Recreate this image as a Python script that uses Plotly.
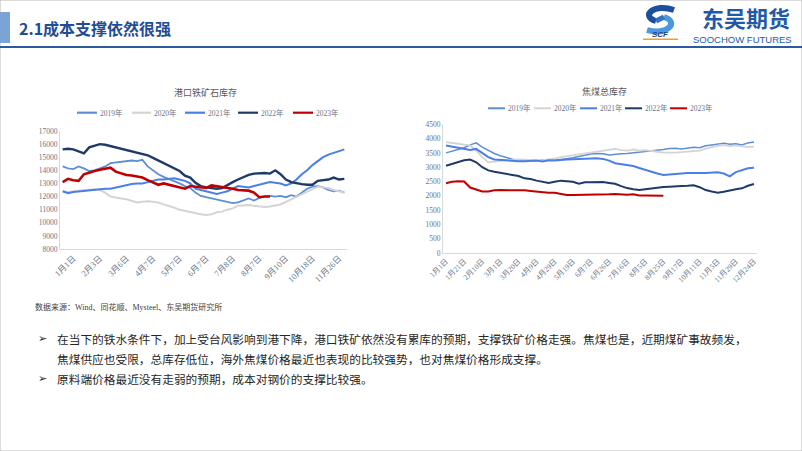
import plotly.graph_objects as go

W, H = 802, 451


def px(x):
    return x / W


def py(y):
    return 1 - y / H


# ---------------- data ----------------
years = ["2019年", "2020年", "2021年", "2022年", "2023年"]

ore_labels = ["1月1日", "2月3日", "3月6日", "4月7日", "5月7日", "6月7日",
              "7月8日", "8月7日", "9月10日", "10月18日", "11月26日"]

ore_2019 = [14300, 14150, 14100, 14300, 14150, 13950, 14000, 14150, 14300,
            14550, 14600, 14650, 14700, 14750, 14700, 14800, 14300, 14000, 13700, 13500, 13350, 13150, 13000, 12800, 12650,
            12300, 12050, 11950, 11850, 11750, 11700, 11600, 11500, 11550, 11700, 11850, 11700, 11900, 12000, 12050, 12000, 12050,
            11950, 12100, 12000, 12300, 12600, 12750, 12800, 12700, 12500, 12400, 12450, 12300]
ore_2020 = [12400, 12350, 12400, 12450, 12500, 12500, 12550, 12500, 12300,
            12000, 11900, 11850, 11800, 11700, 11550, 11600, 11650, 11600, 11550, 11400, 11300, 11150, 11000, 10900, 10800,
            10700, 10650, 10600, 10650, 10800, 10850, 11000, 11100, 11300, 11350, 11350, 11300, 11250, 11200, 11250, 11300, 11400,
            11600, 11800, 12000, 12200, 12400, 12600, 12750, 12700, 12650, 12500, 12400, 12300]
ore_2021 = [12400, 12250, 12350, 12400, 12400, 12450, 12500, 12550, 12600,
            12600, 12700, 12800, 12850, 12950, 13000, 13000, 13100, 13200, 13300, 13300, 13350, 13400, 13300, 13200, 13000,
            12600, 12500, 12400, 12300, 12200, 12300, 12400, 12600, 12800, 12750, 12700, 12800, 12900, 13000, 13100, 13050, 13000,
            12850, 13000, 13300, 13700, 14000, 14400, 14700, 15000, 15200, 15350, 15500, 15600]
ore_2022 = [15600, 15650, 15600, 15450, 15300, 15750, 15900, 16000, 15950,
            15850, 15800, 15700, 15550, 15500, 15400, 15300, 15150, 14950, 14750, 14550, 14350, 14200, 13950, 13600, 13450,
            13050, 12800, 12700, 12650, 12600, 12650, 12900, 13100, 13300, 13500, 13650, 13750, 13800, 13800, 13750, 14000, 13700,
            13300, 13100, 13000, 12950, 12900, 12900, 13200, 13250, 13300, 13450, 13300, 13350]
ore_2023 = [13100, 13350, 13250, 13200, 13700, 13850, 13950, 14050, 14150, 14200,
            13900, 13750, 13650, 13600, 13550, 13450, 13250, 13050, 12900, 13000, 12900, 12800, 12700, 12600, 12800,
            12750, 12700, 12650, 12850, 12800, 12750, 12700, 12600, 12500, 12500, 12450, 12300, 11950, 12000, 12000]

coal_labels = ["1月1日", "1月21日", "2月10日", "3月1日", "3月20日", "4月9日", "4月29日",
               "5月19日", "6月7日", "6月26日", "7月16日", "8月5日", "8月25日", "9月17日",
               "10月11日", "11月5日", "11月29日", "12月24日"]

coal_2019 = [3500, 3560, 3620, 3680, 3780, 3850, 3700, 3580, 3480, 3400, 3330, 3280, 3240, 3220, 3230,
             3220, 3250, 3260, 3240, 3280, 3300, 3330, 3380, 3420, 3460, 3480, 3470, 3430, 3460, 3470, 3480, 3500,
             3540, 3560, 3580, 3600, 3620, 3650, 3660, 3640, 3660, 3700, 3680,
             3750, 3780, 3800, 3840, 3800, 3820, 3780, 3850, 3880]
coal_2020 = [3880, 3860, 3820, 3790, 3760, 3580, 3350, 3170, 3200, 3220, 3230, 3260, 3270, 3260, 3250,
             3230, 3250, 3270, 3300, 3350, 3380, 3420, 3460, 3480, 3500, 3530, 3560, 3600, 3640, 3600, 3580, 3620,
             3580, 3600, 3560, 3540, 3510, 3500, 3510, 3530, 3550, 3560, 3580,
             3650, 3700, 3750, 3770, 3740, 3760, 3720, 3700, 3720]
coal_2021 = [3760, 3720, 3680, 3620, 3600, 3640, 3500, 3350, 3270, 3250, 3240, 3230, 3210, 3210, 3230,
             3230, 3200, 3240, 3230, 3260, 3270, 3280, 3290, 3300, 3300, 3310, 3290, 3230, 3140, 3110, 3080, 3040,
             2970, 2900, 2830, 2780, 2730, 2740, 2760, 2780, 2800, 2810, 2800,
             2800, 2810, 2820, 2780, 2680, 2830, 2900, 2960, 2980]
coal_2022 = [3050, 3110, 3180, 3240, 3270, 3170, 3000, 2890, 2840, 2800, 2770, 2730, 2690, 2610, 2590,
             2530, 2490, 2450, 2490, 2530, 2510, 2490, 2420, 2470, 2470, 2470, 2480, 2450, 2420, 2340, 2270, 2230,
             2200, 2230, 2260, 2300, 2310, 2320, 2320, 2340, 2350, 2370, 2300,
             2200, 2150, 2110, 2140, 2190, 2230, 2260, 2350, 2410]
coal_2023 = [2440, 2490, 2510, 2500, 2290, 2230, 2150, 2150, 2190, 2200, 2200, 2200, 2200, 2190, 2170,
             2150, 2120, 2110, 2110, 2060, 2030, 2030, 2030, 2030, 2040, 2050, 2050, 2055, 2065, 2040, 2040, 2050,
             2010, 2010, 2010, 2025, 2005]

# ---------------- styles ----------------
colors = ["#5E8ED4", "#D4D4D4", "#4A7FE6", "#1F3A68", "#C00000"]
ore_widths = [1.8, 2.0, 2.0, 2.4, 2.6]
coal_widths = [1.5, 1.8, 2.0, 2.0, 2.0]
TICK_FONT = dict(family="Liberation Serif, Noto Sans CJK SC", size=7.5, color="#6A7486")
XTICK_FONT_L = dict(family="Liberation Serif, Noto Sans CJK SC", size=8.5, color="#6A7486")
XTICK_FONT_R = dict(family="Liberation Serif, Noto Sans CJK SC", size=7.5, color="#6A7486")
AXIS_LINE = "#D9D9D9"

fig = go.Figure()

for name, vals, c, w in zip(years, [ore_2019, ore_2020, ore_2021, ore_2022, ore_2023], colors, ore_widths):
    fig.add_trace(go.Scatter(x=list(range(len(vals))), y=vals, mode="lines", name=name,
                             line=dict(color=c, width=w), xaxis="x", yaxis="y",
                             showlegend=False, hoverinfo="skip"))

for name, vals, c, w in zip(years, [coal_2019, coal_2020, coal_2021, coal_2022, coal_2023], colors, coal_widths):
    fig.add_trace(go.Scatter(x=list(range(len(vals))), y=vals, mode="lines", name=name,
                             line=dict(color=c, width=w), xaxis="x2", yaxis="y2",
                             showlegend=False, hoverinfo="skip"))

ore_n = len(ore_2019)
coal_n = len(coal_2019)

fig.update_layout(
    width=W, height=H,
    margin=dict(l=0, r=0, t=0, b=0),
    paper_bgcolor="white", plot_bgcolor="white",
    xaxis=dict(domain=[px(60), px(347)], range=[-0.5, ore_n - 0.5], anchor="y",
               tickvals=[5 * k + 2 for k in range(len(ore_labels))], ticktext=ore_labels,
               tickangle=-45, tickfont=XTICK_FONT_L, showline=True, linecolor=AXIS_LINE,
               showgrid=False, zeroline=False, ticks="", automargin=False, fixedrange=True),
    yaxis=dict(domain=[py(249), py(131)], range=[8000, 17000], dtick=1000, anchor="x",
               tickfont=TICK_FONT, showline=True, linecolor=AXIS_LINE, showgrid=False,
               zeroline=False, ticks="", automargin=False, tickformat="d"),
    xaxis2=dict(domain=[px(443), px(757)], range=[-0.5, coal_n - 0.5], anchor="y2",
                tickvals=[3 * k for k in range(len(coal_labels))], ticktext=coal_labels,
                tickangle=-45, tickfont=XTICK_FONT_R, showline=True, linecolor=AXIS_LINE,
                showgrid=False, zeroline=False, ticks="", automargin=False),
    yaxis2=dict(domain=[py(253), py(124.3)], range=[0, 4500], dtick=500, anchor="x2",
                tickfont=TICK_FONT, showline=True, linecolor=AXIS_LINE, showgrid=False,
                zeroline=False, ticks="", automargin=False, tickformat="d"),
)

shapes = []
annotations = []

# outer slide border
shapes.append(dict(type="rect", xref="paper", yref="paper", x0=0, y0=0, x1=1, y1=1,
                   line=dict(color="#B8B8B8", width=1), fillcolor="rgba(0,0,0,0)", layer="above"))

# header
shapes.append(dict(type="rect", xref="paper", yref="paper", x0=px(0), x1=px(10), y0=py(43), y1=py(12),
                   fillcolor="#7AA3D6", line=dict(width=0)))
shapes.append(dict(type="line", xref="paper", yref="paper", x0=0, x1=1, y0=py(47), y1=py(47),
                   line=dict(color="#2D5A9C", width=2)))
annotations.append(dict(xref="paper", yref="paper", x=px(17), y=py(28), xanchor="left", yanchor="middle",
                        text="<b>2.1成本支撑依然很强</b>", showarrow=False,
                        font=dict(family="Noto Sans CJK SC", size=16, color="#1F4E96")))


# logo
def path_px(pts, close=False):
    s = "M " + " L ".join(f"{px(x):.5f},{py(y):.5f}" for x, y in pts)
    return s + (" Z" if close else "")


def curve_px(start, c1, c2, end):
    return (f"M {px(start[0]):.5f},{py(start[1]):.5f} C {px(c1[0]):.5f},{py(c1[1]):.5f} "
            f"{px(c2[0]):.5f},{py(c2[1]):.5f} {px(end[0]):.5f},{py(end[1]):.5f}")


shapes.append(dict(type="path", xref="paper", yref="paper",
                   path=curve_px((674, 10), (654, 3), (640, 16), (656, 21)),
                   line=dict(color="#1D4F9E", width=6)))
shapes.append(dict(type="path", xref="paper", yref="paper",
                   path=curve_px((647, 30), (667, 36), (680, 22), (664, 17)),
                   line=dict(color="#4A98DE", width=6)))
shapes.append(dict(type="path", xref="paper", yref="paper",
                   path=path_px([(656, 21), (664, 17)]),
                   line=dict(color="#2F73C2", width=5)))
shapes.append(dict(type="rect", xref="paper", yref="paper", x0=px(643), x1=px(678), y0=py(40), y1=py(38.5),
                   fillcolor="#F0A020", line=dict(width=0)))
annotations.append(dict(xref="paper", yref="paper", x=px(660), y=py(34.5), xanchor="center", yanchor="middle",
                        text="<b><i>SCF</i></b>", showarrow=False,
                        font=dict(family="Liberation Sans", size=8, color="#1A3F8F")))
annotations.append(dict(xref="paper", yref="paper", x=px(791), y=py(17), xanchor="right", yanchor="middle",
                        text="<b>东吴期货</b>", showarrow=False, borderpad=0,
                        font=dict(family="Noto Sans CJK SC", size=22, color="#1E5AA8")))
annotations.append(dict(xref="paper", yref="paper", x=px(793), y=py(39.5), xanchor="right", yanchor="middle",
                        text="SOOCHOW FUTURES", showarrow=False, borderpad=0,
                        font=dict(family="Liberation Sans", size=9.5, color="#1E5AA8")))

# chart titles
annotations.append(dict(xref="paper", yref="paper", x=px(205), y=py(92), xanchor="center", yanchor="middle",
                        text="港口铁矿石库存", showarrow=False,
                        font=dict(family="Noto Sans CJK SC", size=9, color="#595959")))
annotations.append(dict(xref="paper", yref="paper", x=px(604), y=py(91), xanchor="center", yanchor="middle",
                        text="焦煤总库存", showarrow=False,
                        font=dict(family="Noto Sans CJK SC", size=9, color="#595959")))

# legends (drawn manually to match layout)
LEG_FONT = dict(family="Liberation Serif, Noto Sans CJK SC", size=7.5, color="#6A7486")
left_leg = [(77, 97), (132, 151), (185, 205), (238, 258), (293, 313)]
for (x0, x1), name, c in zip(left_leg, years, colors):
    shapes.append(dict(type="line", xref="paper", yref="paper", x0=px(x0), x1=px(x1), y0=py(112.7), y1=py(112.7),
                       line=dict(color=c, width=2.2)))
    annotations.append(dict(xref="paper", yref="paper", x=px(x1 + 1), y=py(112.7), xanchor="left",
                            yanchor="middle", text=name, showarrow=False, font=LEG_FONT))
right_leg = [(488, 505), (534, 551), (580, 597), (625, 642), (670, 687)]
for (x0, x1), name, c in zip(right_leg, years, colors):
    shapes.append(dict(type="line", xref="paper", yref="paper", x0=px(x0), x1=px(x1), y0=py(108.3), y1=py(108.3),
                       line=dict(color=c, width=2)))
    annotations.append(dict(xref="paper", yref="paper", x=px(x1 + 1), y=py(108.3), xanchor="left",
                            yanchor="middle", text=name, showarrow=False, font=LEG_FONT))

# source
annotations.append(dict(xref="paper", yref="paper", x=px(33), y=py(307), xanchor="left", yanchor="middle",
                        text="数据来源：Wind、同花顺、Mysteel、东吴期货研究所", showarrow=False,
                        font=dict(family="Liberation Serif, Noto Sans CJK SC", size=8, color="#404040")))

# bullets
BODY = dict(family="Noto Sans CJK SC", size=11.7, color="#262626")
bullet_lines = [
    (338, "在当下的铁水条件下，加上受台风影响到港下降，港口铁矿依然没有累库的预期，支撑铁矿价格走强。焦煤也是，近期煤矿事故频发，", True),
    (358, "焦煤供应也受限，总库存低位，海外焦煤价格最近也表现的比较强势，也对焦煤价格形成支撑。", False),
    (378, "原料端价格最近没有走弱的预期，成本对钢价的支撑比较强。", True),
]
for y, txt, has_bullet in bullet_lines:
    if has_bullet:
        annotations.append(dict(xref="paper", yref="paper", x=px(36), y=py(y), xanchor="left", yanchor="middle",
                                text="➢", showarrow=False,
                                font=dict(family="DejaVu Sans", size=11, color="#262626")))
    annotations.append(dict(xref="paper", yref="paper", x=px(55), y=py(y), xanchor="left", yanchor="middle",
                            text=txt, showarrow=False, font=BODY))

fig.update_layout(shapes=shapes, annotations=annotations)

fig.write_html("out.html", config={"displayModeBar": False},
               post_script="document.body.style.margin='0';")
